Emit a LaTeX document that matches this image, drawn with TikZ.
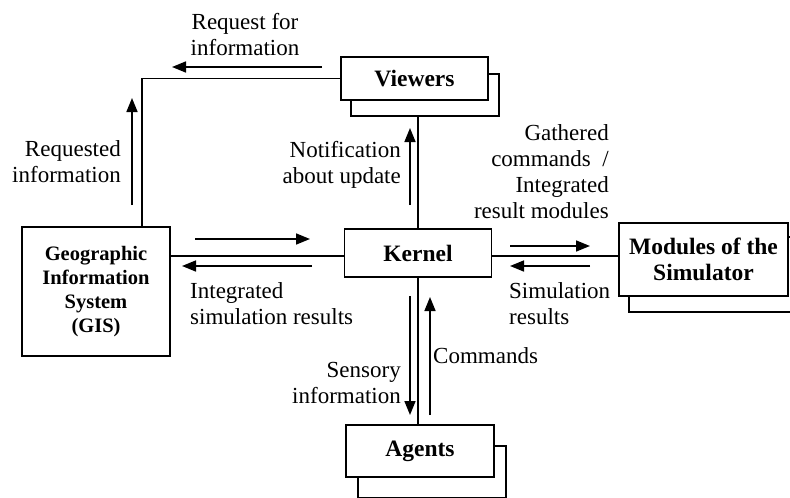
\documentclass[tikz,border=0pt]{standalone}
\usepackage{fontspec}
\setmainfont{Liberation Serif}
\usetikzlibrary{arrows.meta}

\begin{document}
\begin{tikzpicture}[x=1pt, y=-1pt,
	box/.style={draw, fill=white, line width=1.6pt, align=center, inner sep=0pt,
		font=\fontsize{23.5}{26}\selectfont\bfseries},
	lbl/.style={inner sep=0pt, font=\fontsize{23}{26}\selectfont},
	link/.style={line width=1.6pt},
	flow/.style={line width=1.6pt, -{Triangle[length=14pt,width=11pt]}}]
	\useasboundingbox (0,0) rectangle (790,498);
	\clip (0,0) rectangle (790,498);

	% boxes, the stacked ones get a second sheet behind
	\node [box, minimum width=148pt, minimum height=42pt] (viewersbk) at (425,95) {};
	\node [box, minimum width=147pt, minimum height=43pt] (viewers) at (414.5,78.5) {Viewers};
	\node [box, minimum width=147pt, minimum height=48pt] (kernel) at (418,253) {Kernel};
	\node [box, minimum width=148pt, minimum height=129pt,
		font=\fontsize{20.5}{24}\selectfont\bfseries] (gis) at (96,291.5)
		{Geographic\\Information\\System\\(GIS)};
	\node [box, minimum width=169pt, minimum height=75pt] (modulesbk) at (713.5,274.5) {};
	\node [box, minimum width=169pt, minimum height=73pt] (modules) at (703.5,259.5)
		{Modules of the\\Simulator};
	\node [box, minimum width=148pt, minimum height=52pt] (agentsbk) at (432,472) {};
	\node [box, minimum width=148pt, minimum height=52pt] (agents) at (420,451) {Agents};

	% connections
	\draw [link] (viewers.west) -| ([xshift=46pt]gis.north);
	\draw [link] (kernel.north) -- (kernel.north |- viewersbk.south);
	\draw [link] ([yshift=-3pt]kernel.west) -- ([yshift=-3pt]kernel.west -| gis.east);
	\draw [link] ([yshift=-3pt]kernel.east) -- ([yshift=-3pt]kernel.east -| modules.west);
	\draw [link] (kernel.south) -- (kernel.south |- agents.north);

	% message arrows
	\coordinate (reqA) at (322,67);   \coordinate (reqB) at (172,67);
	\coordinate (gotA) at (132,205);  \coordinate (gotB) at (132,98);
	\coordinate (notA) at (410,205);  \coordinate (notB) at (410,128);
	\coordinate (toKA) at (195,239);  \coordinate (toKB) at (310,239);
	\coordinate (toGA) at (312,266);  \coordinate (toGB) at (182,266);
	\coordinate (toMA) at (510,246);  \coordinate (toMB) at (590,246);
	\coordinate (frMA) at (590,266);  \coordinate (frMB) at (510,266);
	\coordinate (senA) at (410,296);  \coordinate (senB) at (410,415);
	\coordinate (cmdA) at (430,415);  \coordinate (cmdB) at (430,297);
	\draw [flow] (reqA) -- (reqB);
	\draw [flow] (gotA) -- (gotB);
	\draw [flow] (notA) -- (notB);
	\draw [flow] (toKA) -- (toKB);
	\draw [flow] (toGA) -- (toGB);
	\draw [flow] (toMA) -- (toMB);
	\draw [flow] (frMA) -- (frMB);
	\draw [flow] (senA) -- (senB);
	\draw [flow] (cmdA) -- (cmdB);

	\node [lbl, align=center] (reqtext) at (245,35) {Request for\\information};
	\node [lbl, align=right, anchor=east] (gottext) at (121,162) {Requested\\information};
	\node [lbl, align=right, anchor=east] (nottext) at (401,165) {Notification\\about update};
	\node [lbl, align=right, anchor=east] (gathtext) at (609,172)
		{Gathered\\commands~~/\\Integrated\\result modules};
	\node [lbl, align=left, anchor=west] (inttext) at (190,303.5)
		{Integrated\\simulation results};
	\node [lbl, align=left, anchor=west] (simtext) at (509,303.5) {Simulation\\results};
	\node [lbl, align=right, anchor=east] (sentext) at (401,383) {Sensory\\information};
	\node [lbl, anchor=west] (cmdtext) at (433,356) {Commands};
\end{tikzpicture}
\end{document}
